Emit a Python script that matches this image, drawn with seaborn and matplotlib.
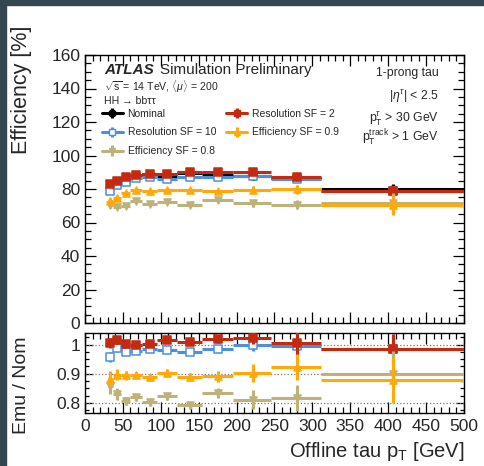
import numpy as np
import matplotlib
matplotlib.use("Agg")
import matplotlib.pyplot as plt
import matplotlib.patches as mpatches
from matplotlib.ticker import MultipleLocator
import seaborn as sns
import pandas as pd

sns.set_style("ticks")
plt.rcParams['font.family'] = ['Liberation Sans', 'DejaVu Sans']
plt.rcParams['mathtext.fontset'] = 'custom'
plt.rcParams['mathtext.rm'] = 'Liberation Sans'
plt.rcParams['mathtext.it'] = 'Liberation Sans:italic'

# ---------------- data ----------------
pt_edges = [30, 37, 47, 60, 75, 95, 122, 155, 195, 245, 312, 500]
pt_points = [33, 42, 54, 67, 86, 108.5, 138.5, 175, 221, 280, 406]

nominal = [82.3, 83.4, 86.7, 88.6, 88.7, 87.7, 89.4, 88.3, 88.0, 86.5, 80.0]
res_sf2 = [82.8, 84.8, 87.0, 88.4, 89.0, 89.0, 90.1, 90.0, 90.0, 87.0, 78.8]
res_sf10 = [78.8, 82.5, 84.4, 86.7, 87.4, 86.0, 87.3, 87.1, 87.8, 86.0, 78.8]
eff_sf09 = [72.6, 74.8, 77.5, 79.2, 78.8, 79.2, 79.5, 78.7, 79.5, 79.8, 70.3]
eff_sf08 = [70.5, 69.3, 69.9, 72.6, 71.1, 72.2, 70.7, 73.6, 71.4, 70.6, 71.9]

err_res = [1.5, 1.2, 1.0, 0.9, 0.8, 0.8, 0.8, 1.0, 1.5, 2.0, 3.0]
err_eff = [1.8, 1.4, 1.2, 1.0, 1.0, 1.0, 1.0, 1.3, 2.0, 2.8, 6.0]

ratio_res_sf2 = [1.006, 1.017, 1.003, 0.998, 1.003, 1.015, 1.008, 1.019, 1.023, 1.006, 0.985]
ratio_res_sf10 = [0.957, 0.989, 0.974, 0.979, 0.985, 0.981, 0.976, 0.986, 0.998, 0.995, 0.985]
ratio_eff_sf09 = [0.882, 0.897, 0.894, 0.894, 0.888, 0.903, 0.889, 0.891, 0.903, 0.922, 0.879]
ratio_eff_sf08 = [0.857, 0.831, 0.806, 0.819, 0.802, 0.823, 0.791, 0.834, 0.811, 0.816, 0.899]

rerr_res = [0.018, 0.014, 0.010, 0.010, 0.009, 0.009, 0.009, 0.012, 0.020, 0.040, 0.050]
rerr_eff = [0.028, 0.020, 0.014, 0.012, 0.012, 0.012, 0.013, 0.018, 0.032, 0.045, 0.080]

labels = ["Nominal", "Resolution SF = 2", "Resolution SF = 10",
          "Efficiency SF = 0.9", "Efficiency SF = 0.8"]
colors = ["#000000", "#c42a10", "#4a90e2", "#ffa90a", "#bdb27a"]
markers = ["o", "s", "s", "^", "v"]
filled = [True, True, False, True, True]
zorders = [2, 5, 4, 7, 6]

x = np.array(pt_points)
edges = np.array(pt_edges)
xerr = np.vstack([x - edges[:-1], edges[1:] - x])

fig = plt.figure(figsize=(4.85, 4.66), dpi=100)
fig.patch.set_facecolor("white")
ax = fig.add_axes([85/485, 1 - 323/466, 379/485, 268/466])
axr = fig.add_axes([85/485, 1 - 413/466, 379/485, 80/466])

# border strips
fig.patches.append(mpatches.Rectangle((0, 1 - 5/466), 1, 5/466, transform=fig.transFigure,
                                      color="#34464f", zorder=0))
fig.patches.append(mpatches.Rectangle((0, 0), 6/485, 1, transform=fig.transFigure,
                                      color="#34464f", zorder=0))

main_vals = [nominal, res_sf2, res_sf10, eff_sf09, eff_sf08]
main_errs = [err_res, err_res, err_res, err_eff, err_eff]
handles = []
for i in range(5):
    c = colors[i]
    ax.errorbar(x, main_vals[i], yerr=main_errs[i], xerr=xerr, fmt="none", ecolor=c,
                elinewidth=2.2, capsize=0, zorder=zorders[i])
    df = pd.DataFrame({"pt": x, "eff": main_vals[i]})
    sns.scatterplot(data=df, x="pt", y="eff", ax=ax, marker=markers[i], s=26,
                    color=c if filled[i] else "white", edgecolor=c,
                    linewidth=1.1, zorder=zorders[i] + 0.5, legend=False)
    handles.append(ax.errorbar([], [], yerr=[], xerr=[], color=c, marker=markers[i],
                               mfc=c if filled[i] else "white", mec=c, ms=5,
                               elinewidth=2.2, lw=2.2))

ratio_vals = [None, ratio_res_sf2, ratio_res_sf10, ratio_eff_sf09, ratio_eff_sf08]
ratio_errs = [None, rerr_res, rerr_res, rerr_eff, rerr_eff]
for i in range(1, 5):
    c = colors[i]
    axr.errorbar(x, ratio_vals[i], yerr=ratio_errs[i], xerr=xerr, fmt="none", ecolor=c,
                 elinewidth=2.2, capsize=0, zorder=zorders[i])
    df = pd.DataFrame({"pt": x, "r": ratio_vals[i]})
    sns.scatterplot(data=df, x="pt", y="r", ax=axr, marker=markers[i], s=26,
                    color=c if filled[i] else "white", edgecolor=c,
                    linewidth=1.1, zorder=zorders[i] + 0.5, legend=False)

for yv in [0.8, 0.9, 1.0]:
    axr.axhline(yv, color="#777777", ls=":", lw=0.9, zorder=1)

# axes formatting
for a in (ax, axr):
    a.set_xlim(0, 500)
    a.xaxis.set_major_locator(MultipleLocator(50))
    a.xaxis.set_minor_locator(MultipleLocator(10))
    a.tick_params(which="both", direction="in", top=True, right=True,
                  labelsize=12.5, width=0.9, color="black")
    a.tick_params(which="major", length=8)
    a.tick_params(which="minor", length=4)
    a.set_xlabel("")
    a.set_ylabel("")
    for s in a.spines.values():
        s.set_linewidth(1.0)
        s.set_color("black")

ax.set_ylim(0, 160)
ax.yaxis.set_major_locator(MultipleLocator(20))
ax.yaxis.set_minor_locator(MultipleLocator(5))
ax.tick_params(labelbottom=False)

axr.set_ylim(0.765, 1.04)
axr.set_yticks([0.8, 0.9, 1.0])
axr.set_yticklabels(["0.8", "0.9", "1"])
axr.yaxis.set_minor_locator(MultipleLocator(0.025))
axr.tick_params(axis="y", which="major", length=6)
axr.tick_params(axis="y", which="minor", length=3)
axr.tick_params(axis="x", pad=4)

fig.text(22/485, 1 - 26/466, "Efficiency [%]", rotation=90, ha="center", va="top", fontsize=15.5)
fig.text(22/485, 1 - 336/466, "Emu / Nom", rotation=90, ha="center", va="top", fontsize=14)
fig.text(465/485, 1 - 457/466, r"Offline tau p$_{\mathrm{T}}$ [GeV]", ha="right", va="baseline", fontsize=14.5)

# annotations
ax.text(0.05, 0.945, "ATLAS", transform=ax.transAxes, fontsize=11, fontweight="bold",
        fontstyle="italic", va="center", ha="left")
ax.text(0.198, 0.945, "Simulation Preliminary", transform=ax.transAxes, fontsize=11,
        va="center", ha="left")
ax.text(0.05, 0.880, r"$\sqrt{\mathrm{s}}$ = 14 TeV, $\langle\mu\rangle$ = 200", transform=ax.transAxes,
        fontsize=7.6, va="center", ha="left")
ax.text(0.05, 0.830, "HH → bbττ", transform=ax.transAxes,
        fontsize=7.6, va="center", ha="left")

ax.text(0.934, 0.933, "1-prong tau", transform=ax.transAxes, fontsize=8.8, ha="right", va="center")
ax.text(0.934, 0.847, r"|$\eta^{\tau}$| < 2.5", transform=ax.transAxes, fontsize=8.8, ha="right", va="center")
ax.text(0.934, 0.761, r"p$_{\mathrm{T}}^{\tau}$ > 30 GeV", transform=ax.transAxes, fontsize=8.8, ha="right", va="center")
ax.text(0.934, 0.692, r"p$_{\mathrm{T}}^{\mathrm{track}}$ > 1 GeV", transform=ax.transAxes, fontsize=8.8, ha="right", va="center")

# column-major order so rows read: Nominal | Res SF=2 ; Res SF=10 | Eff 0.9 ; Eff 0.8
leg_order = [0, 2, 4, 1, 3]
ax.legend([handles[i] for i in leg_order], [labels[i] for i in leg_order],
          loc="upper left", bbox_to_anchor=(0.045, 0.800), ncol=2,
          frameon=False, fontsize=7.5, handlelength=2.0, columnspacing=1.0,
          labelspacing=0.85, handletextpad=0.45, borderpad=0, borderaxespad=0)

fig.savefig("out.png", dpi=100)
